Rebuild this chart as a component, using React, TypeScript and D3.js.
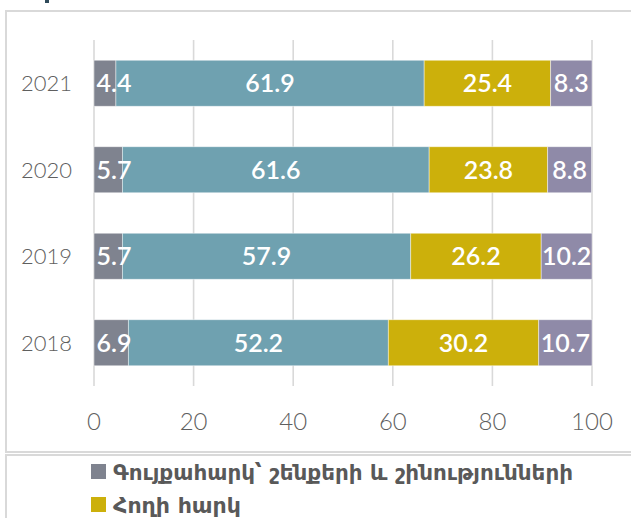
import React from "react";
import * as d3 from "d3";

// categories, top to bottom
const years = ["2021", "2020", "2019", "2018"];

// series values (%)
const buildingTax = [4.4, 5.7, 5.7, 6.9];
const otherTaxA = [61.9, 61.6, 57.9, 52.2];
const landTax = [25.4, 23.8, 26.2, 30.2];
const otherTaxB = [8.3, 8.8, 10.2, 10.7];

const seriesKeys = ["buildingTax", "otherTaxA", "landTax", "otherTaxB"];
const seriesColors = ["#7f838f", "#6fa1b0", "#ccb00b", "#8f8aa8"];
const legendItems = [
  { name: "Գույքահարկ՝ շենքերի և շինությունների", color: "#7f838f", len: 460 },
  { name: "Հողի հարկ", color: "#ccb00b", len: 128 },
];

const xTicks = [0, 20, 40, 60, 80, 100];

const W = 631;
const H = 518;

const App = () => {
  const rows = years.map((year, i) => ({
    year,
    buildingTax: buildingTax[i],
    otherTaxA: otherTaxA[i],
    landTax: landTax[i],
    otherTaxB: otherTaxB[i],
  }));

  const stacked = d3.stack<any>().keys(seriesKeys)(rows);

  const x = d3.scaleLinear().domain([0, 100]).range([94, 592]);
  const y = d3
    .scaleBand()
    .domain(years)
    .range([40, 386])
    .paddingInner(0.468)
    .paddingOuter(0.234);

  const gridColor = "#d9d9d9";
  const textFont = "Lato, 'DejaVu Sans', sans-serif";

  return (
    <svg
      width={W}
      height={H}
      style={{ position: "absolute", left: 0, top: 0, background: "#fff" }}
    >
      {/* cut-off title fragment */}
      <rect x={45} y={0} width={4} height={3} fill="#2f4a5a" />

      {/* chart frame */}
      <path d={`M${W + 2},11 H6 V452 H${W + 2}`} fill="none" stroke={gridColor} strokeWidth={2} />
      {/* legend frame */}
      <path d={`M${W + 2},455 H6 V${H + 2}`} fill="none" stroke={gridColor} strokeWidth={2} />

      {/* grid */}
      {xTicks.map((t) => (
        <line
          key={t}
          x1={x(t)}
          x2={x(t)}
          y1={y.range()[0]}
          y2={y.range()[1]}
          stroke={gridColor}
          strokeWidth={1.6}
        />
      ))}

      {/* bars */}
      {stacked.map((layer, si) => (
        <g key={layer.key} fill={seriesColors[si]}>
          {layer.map((d, i) => (
            <rect
              key={i}
              x={x(d[0])}
              y={y(years[i])}
              width={x(d[1]) - x(d[0])}
              height={y.bandwidth()}
              stroke="rgba(255,255,255,0.55)"
              strokeWidth={0.8}
            />
          ))}
        </g>
      ))}

      {/* value labels */}
      {stacked.map((layer, si) =>
        layer.map((d, i) => {
          const v = d[1] - d[0];
          let cx = (x(d[0]) + x(d[1])) / 2;
          if (si === 0) cx = Math.max(cx, x(0) + 20);
          return (
            <text
              key={`${si}-${i}`}
              x={cx}
              y={(y(years[i]) as number) + y.bandwidth() / 2}
              dy="0.36em"
              textAnchor="middle"
              fill="#fff"
              fontFamily={textFont}
              fontWeight={600}
              fontSize={25}
            >
              {v.toFixed(1)}
            </text>
          );
        })
      )}

      {/* category labels */}
      {years.map((yr) => (
        <text
          key={yr}
          x={72}
          y={(y(yr) as number) + y.bandwidth() / 2}
          dy="0.36em"
          textAnchor="end"
          fill="#5f5f5f"
          fontFamily={textFont}
          fontWeight={300}
          fontSize={22}
        >
          {yr}
        </text>
      ))}

      {/* x tick labels */}
      {xTicks.map((t) => (
        <text
          key={t}
          x={x(t)}
          y={430}
          textAnchor="middle"
          fill="#5f5f5f"
          fontFamily={textFont}
          fontWeight={300}
          fontSize={24}
        >
          {t}
        </text>
      ))}

      {/* legend */}
      {legendItems.map((item, i) => (
        <g key={item.name} transform={`translate(91,${464 + i * 33})`}>
          <rect width={15} height={15} fill={item.color} />
          <text
            x={22}
            y={8}
            dy="0.36em"
            fill="#595959"
            fontFamily="'DejaVu Sans', 'Noto Sans', sans-serif"
            fontWeight={700}
            fontSize={22}
            textLength={item.len}
            lengthAdjust="spacingAndGlyphs"
          >
            {item.name}
          </text>
        </g>
      ))}
    </svg>
  );
};

export default App;
